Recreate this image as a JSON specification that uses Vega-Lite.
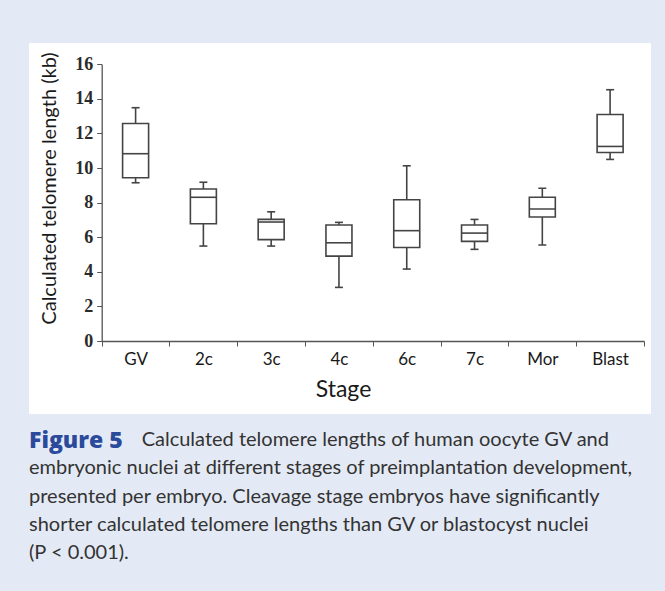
{
  "$schema": "https://vega.github.io/schema/vega-lite/v6.json",
  "width": 622,
  "height": 371,
  "padding": {"left": 29, "top": 43, "right": 14, "bottom": 29},
  "background": "#e4eaf5",
  "title": {
    "text": "Figure 5",
    "subtitle": [
      "\u200b\u00a0\u00a0\u00a0\u00a0\u00a0\u00a0\u00a0\u00a0\u00a0\u00a0\u00a0\u00a0\u00a0\u00a0\u00a0\u00a0\u00a0\u00a0\u00a0\u00a0\u00a0\u00a0Calculated telomere lengths of human oocyte GV and",
      "embryonic nuclei at different stages of preimplantation development,",
      "presented per embryo. Cleavage stage embryos have significantly",
      "shorter calculated telomere lengths than GV or blastocyst nuclei",
      "(P < 0.001)."
    ],
    "orient": "bottom",
    "anchor": "start",
    "frame": "group",
    "offset": 16,
    "font": "Open Sans",
    "fontSize": 23,
    "fontWeight": 800,
    "color": "#2b4a9c",
    "subtitleFont": "Lato",
    "subtitleFontSize": 20,
    "subtitleColor": "#333333",
    "subtitleLineHeight": 28.3,
    "subtitlePadding": -23
  },
  "data": {
    "values": [
      {"stage": "GV", "lower": 9.15, "q1": 9.44, "median": 10.83, "q3": 12.58, "upper": 13.49},
      {"stage": "2c", "lower": 5.49, "q1": 6.78, "median": 8.31, "q3": 8.79, "upper": 9.18},
      {"stage": "3c", "lower": 5.49, "q1": 5.86, "median": 6.88, "q3": 7.03, "upper": 7.47},
      {"stage": "4c", "lower": 3.1, "q1": 4.91, "median": 5.68, "q3": 6.71, "upper": 6.86},
      {"stage": "6c", "lower": 4.16, "q1": 5.41, "median": 6.38, "q3": 8.17, "upper": 10.13},
      {"stage": "7c", "lower": 5.3, "q1": 5.76, "median": 6.24, "q3": 6.71, "upper": 7.03},
      {"stage": "Mor", "lower": 5.55, "q1": 7.17, "median": 7.63, "q3": 8.31, "upper": 8.83},
      {"stage": "Blast", "lower": 10.5, "q1": 10.9, "median": 11.25, "q3": 13.1, "upper": 14.53}
    ]
  },
  "encoding": {
    "x": {
      "field": "stage",
      "type": "nominal",
      "sort": null,
      "scale": {"range": [72.7, 615], "paddingInner": 0, "paddingOuter": 0},
      "axis": {
        "title": "Stage",
        "offset": -73,
        "labelAngle": 0,
        "labelFont": "Lato",
        "labelFontSize": 17,
        "labelColor": "#1a1a1a",
        "labelPadding": 5,
        "tickBand": "extent",
        "tickSize": 5,
        "tickColor": "#555555",
        "domainColor": "#555555",
        "domainWidth": 1.3,
        "titleFont": "Lato",
        "titleFontSize": 23,
        "titleFontWeight": "normal",
        "titleColor": "#1a1a1a",
        "titleX": 314,
        "titleY": 55,
        "titleBaseline": "alphabetic"
      }
    }
  },
  "layer": [
    {
      "mark": {"type": "rule", "color": "#444444", "strokeWidth": 1.6},
      "encoding": {
        "y": {
          "field": "lower",
          "type": "quantitative",
          "scale": {"domain": [0, 16], "range": [298, 21.3], "nice": false, "zero": false},
          "axis": {
            "title": "Calculated telomere length (kb)",
            "values": [0, 2, 4, 6, 8, 10, 12, 14, 16],
            "offset": -72.7,
            "grid": false,
            "labelFont": "Liberation Serif",
            "labelFontWeight": "bold",
            "labelFontSize": 18,
            "labelColor": "#2a2a2a",
            "labelPadding": 4,
            "tickSize": 5,
            "tickColor": "#555555",
            "domainColor": "#555555",
            "domainWidth": 1.3,
            "titleFont": "Lato",
            "titleFontSize": 20,
            "titleFontWeight": "normal",
            "titleColor": "#1a1a1a",
            "titleY": 145,
            "titlePadding": 15
          }
        },
        "y2": {"field": "upper"}
      }
    },
    {
      "mark": {"type": "bar", "size": 26, "fill": "white", "stroke": "#444444", "strokeWidth": 1.6},
      "encoding": {
        "y": {"field": "q1", "type": "quantitative"},
        "y2": {"field": "q3"}
      }
    },
    {
      "mark": {"type": "tick", "size": 26, "thickness": 1.6, "color": "#444444", "opacity": 1},
      "encoding": {"y": {"field": "median", "type": "quantitative"}}
    },
    {
      "mark": {"type": "tick", "size": 8, "thickness": 1.6, "color": "#444444", "opacity": 1},
      "encoding": {"y": {"field": "lower", "type": "quantitative"}}
    },
    {
      "mark": {"type": "tick", "size": 8, "thickness": 1.6, "color": "#444444", "opacity": 1},
      "encoding": {"y": {"field": "upper", "type": "quantitative"}}
    }
  ],
  "config": {
    "view": {"fill": "white", "stroke": null}
  }
}
